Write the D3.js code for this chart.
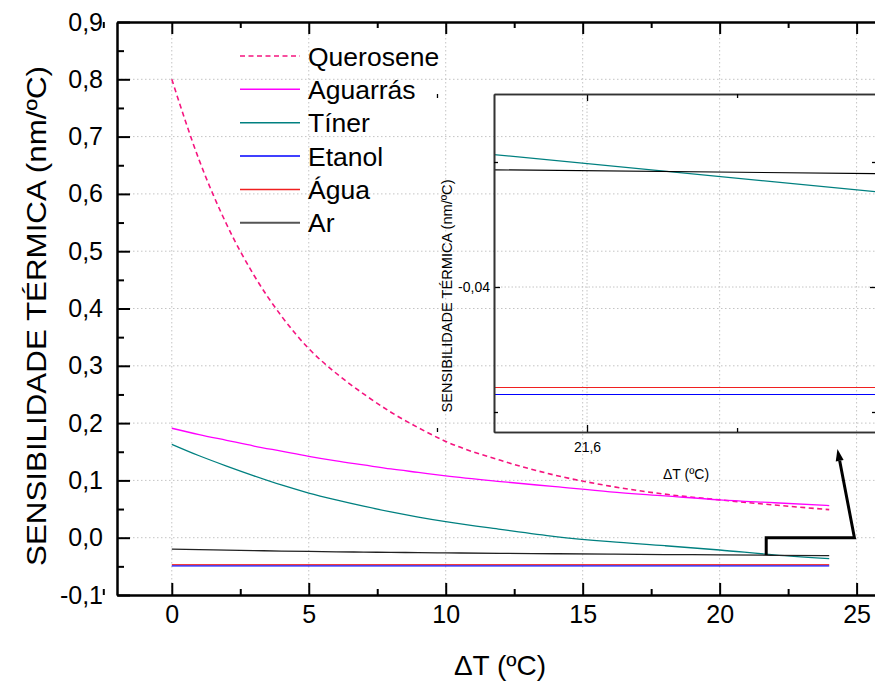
<!DOCTYPE html>
<html><head><meta charset="utf-8">
<script src="https://cdn.jsdelivr.net/npm/d3@7"></script>
<style>
body{margin:0;background:#fff}
text{font-family:"Liberation Sans",Arial,Helvetica,sans-serif;fill:#000}
</style>
</head><body>
<svg id="chart" width="875" height="684"></svg>
<script>
// ---------------- data ----------------
const deltaT    = [0,1,2,3,4,5,6,7,8,9,10,12,14,16,18,20,22,24];
const querosene = [0.800,0.659,0.547,0.458,0.387,0.330,0.287,0.251,0.219,0.192,0.168,0.135,0.109,0.090,0.076,0.066,0.057,0.049];
const aguarras  = [0.191,0.180,0.170,0.160,0.151,0.142,0.134,0.127,0.120,0.114,0.108,0.098,0.089,0.080,0.073,0.066,0.061,0.056];
const tiner     = [0.163,0.143,0.125,0.108,0.092,0.078,0.066,0.055,0.045,0.036,0.028,0.0145,0.002,-0.007,-0.014,-0.0215,-0.0300,-0.0366];
const ar        = [-0.0200,-0.0209,-0.0217,-0.0225,-0.0233,-0.0240,-0.0246,-0.0251,-0.0256,-0.0261,-0.0265,-0.0273,-0.0280,-0.0287,-0.0294,-0.0300,-0.0307,-0.0314];
const flatT     = [0,24];
const etanol    = [-0.0491,-0.0491];
const agua      = [-0.0470,-0.0470];

const seriesNames = ["Querosene","Aguarrás","Tíner","Etanol","Água","Ar"];

const xTicks      = [0,5,10,15,20,25];
const xMinorTicks = [-2.5,2.5,7.5,12.5,17.5,22.5];
const yTicks      = [-0.1,0,0.1,0.2,0.3,0.4,0.5,0.6,0.7,0.8,0.9];
const yMinorTicks = [-0.05,0.05,0.15,0.25,0.35,0.45,0.55,0.65,0.75,0.85];

// inset (zoom around ΔT ≈ 21,6)
const insetT      = [21.55,21.70];
const insetTiner  = [-0.03448,-0.03623];
const insetAr     = [-0.03529,-0.03547];
const insetAgua   = [-0.04402,-0.04402];
const insetEtanol = [-0.04430,-0.04430];
const insetXTicks = [21.6], insetXMinor = [21.55,21.65];
const insetYTicks = [-0.04], insetYMinor = [-0.045,-0.035];

// arrow annotation (data units of main plot)
const arrowPts = [[21.7,-0.03],[21.7,0.0],[24.92,0.0],[24.3,0.155]];

(function(){
// ---------------- styles ----------------
const colors = {Querosene:"#f5147f",Aguarrás:"#ff00ff",Tíner:"#008080",Etanol:"#0000ff",Água:"#f02020",Ar:"#222222"};
const fmtY = v => v.toFixed(1).replace(".", ",");

const svg = d3.select("#chart");
const M = {left:117, top:22, right:884, bottom:595};
const x = d3.scaleLinear().domain([-2,26]).range([M.left,M.right]);
const y = d3.scaleLinear().domain([-0.1,0.9]).range([M.bottom,M.top]);

// grid
const grid = svg.append("g").attr("stroke","#c4c4c4").attr("stroke-width",1).attr("stroke-dasharray","1.5,2.5");
grid.selectAll("line.v").data(xTicks).join("line").attr("class","v")
  .attr("x1",d=>x(d)).attr("x2",d=>x(d)).attr("y1",M.top).attr("y2",M.bottom);
grid.selectAll("line.h").data(yTicks.filter(d=>d>-0.1&&d<0.9)).join("line").attr("class","h")
  .attr("y1",d=>y(d)).attr("y2",d=>y(d)).attr("x1",M.left).attr("x2",M.right);

// lines
const line = d3.line().x(d=>x(d[0])).y(d=>y(d[1])).curve(d3.curveMonotoneX);
const mainSeries = [
  {name:"Querosene", t:deltaT, v:querosene, dash:"5,3.5", w:1.6},
  {name:"Aguarrás",  t:deltaT, v:aguarras,  w:1.3},
  {name:"Tíner",     t:deltaT, v:tiner,     w:1.3},
  {name:"Etanol",    t:flatT,  v:etanol,    w:1.1},
  {name:"Água",      t:flatT,  v:agua,      w:1.0},
  {name:"Ar",        t:deltaT, v:ar,        w:1.3}
];
svg.append("g").selectAll("path").data(mainSeries).join("path")
  .attr("d",s=>line(s.t.map((t,i)=>[t,s.v[i]])))
  .attr("fill","none").attr("stroke",s=>colors[s.name]).attr("stroke-width",s=>s.w)
  .attr("stroke-dasharray",s=>s.dash||null);

// axes (inward ticks, Origin style)
function styleAxis(g){
  g.select(".domain").attr("stroke","#000").attr("stroke-width",2);
  g.selectAll(".tick line").attr("stroke","#000").attr("stroke-width",2);
  g.selectAll(".tick text").attr("font-size",25).style("font-family",'"Liberation Sans",Arial,sans-serif');
}
styleAxis(svg.append("g").attr("transform",`translate(0,${M.bottom})`)
  .call(d3.axisBottom(x).tickValues(xTicks).tickSizeInner(-12).tickSizeOuter(0).tickPadding(10).tickFormat(d3.format("d"))));
styleAxis(svg.append("g").attr("transform",`translate(0,${M.bottom})`)
  .call(d3.axisBottom(x).tickValues(xMinorTicks).tickSizeInner(-6).tickSizeOuter(0).tickFormat("")));
styleAxis(svg.append("g").attr("transform",`translate(0,${M.top})`)
  .call(d3.axisTop(x).tickValues(xTicks).tickSizeInner(-12).tickSizeOuter(0).tickFormat("")));
styleAxis(svg.append("g").attr("transform",`translate(0,${M.top})`)
  .call(d3.axisTop(x).tickValues(xMinorTicks).tickSizeInner(-6).tickSizeOuter(0).tickFormat("")));
styleAxis(svg.append("g").attr("transform",`translate(${M.left},0)`)
  .call(d3.axisLeft(y).tickValues(yTicks).tickSizeInner(-13).tickSizeOuter(0).tickPadding(14).tickFormat(fmtY)));
styleAxis(svg.append("g").attr("transform",`translate(${M.left},0)`)
  .call(d3.axisLeft(y).tickValues(yMinorTicks).tickSizeInner(-7).tickSizeOuter(0).tickFormat("")));

// axis titles
svg.append("text").attr("x",500).attr("y",675).attr("text-anchor","middle").attr("font-size",28).text("ΔT (ºC)");
svg.append("text").attr("transform","translate(46,316) rotate(-90)").attr("text-anchor","middle")
  .attr("font-size",27).attr("textLength",500).attr("lengthAdjust","spacingAndGlyphs")
  .text("SENSIBILIDADE TÉRMICA (nm/ºC)");

// legend
const lg = svg.append("g");
seriesNames.forEach((n,i)=>{
  const yy = 56 + i*33.35;
  lg.append("line").attr("x1",240).attr("x2",300).attr("y1",yy).attr("y2",yy)
    .attr("stroke", n==="Ar" ? "#555" : colors[n]).attr("stroke-width", n==="Ar"?2:1.5)
    .attr("stroke-dasharray", n==="Querosene" ? "5,3.5" : null);
  lg.append("text").attr("x",308).attr("y",yy+9.5).attr("font-size",26.5).text(n);
});

// ---------------- inset ----------------
const I = {left:494, top:94, right:876, bottom:432};
const xi = d3.scaleLinear().domain([21.569,21.6963]).range([I.left,I.right]);
const yi = d3.scaleLinear().domain([-0.0458,-0.03228]).range([I.bottom,I.top]);
const inset = svg.append("g");
inset.append("clipPath").attr("id","iclip").append("rect")
  .attr("x",I.left).attr("y",I.top).attr("width",I.right-I.left).attr("height",I.bottom-I.top);
const ig = inset.append("g").attr("stroke","#c4c4c4").attr("stroke-dasharray","1.5,2");
ig.selectAll("line.v").data(insetXTicks).join("line").attr("x1",d=>xi(d)).attr("x2",d=>xi(d)).attr("y1",I.top).attr("y2",I.bottom);
ig.selectAll("line.h").data(insetYTicks).join("line").attr("y1",d=>yi(d)).attr("y2",d=>yi(d)).attr("x1",I.left).attr("x2",I.right);
const iline = d3.line().x(d=>xi(d[0])).y(d=>yi(d[1]));
const insetSeries = [
  {name:"Tíner",v:insetTiner},{name:"Ar",v:insetAr},{name:"Água",v:insetAgua},{name:"Etanol",v:insetEtanol}
];
inset.append("g").attr("clip-path","url(#iclip)").selectAll("path").data(insetSeries).join("path")
  .attr("d",s=>iline(insetT.map((t,i)=>[t,s.v[i]])))
  .attr("fill","none").attr("stroke",s=>s.name==="Ar"?"#000":colors[s.name]).attr("stroke-width",1.2);

function styleInset(g){
  g.select(".domain").attr("stroke","#333").attr("stroke-width",1.6);
  g.selectAll(".tick line").attr("stroke","#000").attr("stroke-width",1.3);
  g.selectAll(".tick text").attr("font-size",14).style("font-family",'"Liberation Sans",Arial,sans-serif');
}
styleInset(inset.append("g").attr("transform",`translate(0,${I.bottom})`)
  .call(d3.axisBottom(xi).tickValues(insetXTicks).tickSizeInner(-7).tickSizeOuter(0).tickPadding(10).tickFormat(d=>d.toFixed(1).replace(".",","))));
styleInset(inset.append("g").attr("transform",`translate(0,${I.bottom})`)
  .call(d3.axisBottom(xi).tickValues(insetXMinor).tickSizeInner(-4).tickSizeOuter(0).tickFormat("")));
styleInset(inset.append("g").attr("transform",`translate(0,${I.top})`)
  .call(d3.axisTop(xi).tickValues(insetXTicks).tickSizeInner(-7).tickSizeOuter(0).tickFormat("")));
styleInset(inset.append("g").attr("transform",`translate(0,${I.top})`)
  .call(d3.axisTop(xi).tickValues(insetXMinor).tickSizeInner(-4).tickSizeOuter(0).tickFormat("")));
styleInset(inset.append("g").attr("transform",`translate(${I.left},0)`)
  .call(d3.axisLeft(yi).tickValues(insetYTicks).tickSizeInner(-6).tickSizeOuter(0).tickPadding(4).tickFormat(d=>d.toFixed(2).replace(".",","))));
styleInset(inset.append("g").attr("transform",`translate(${I.left},0)`)
  .call(d3.axisLeft(yi).tickValues(insetYMinor).tickSizeInner(-4).tickSizeOuter(0).tickFormat("")));
styleInset(inset.append("g").attr("transform",`translate(${I.right},0)`)
  .call(d3.axisRight(yi).tickValues(insetYTicks).tickSizeInner(-6).tickSizeOuter(0).tickFormat("")));
styleInset(inset.append("g").attr("transform",`translate(${I.right},0)`)
  .call(d3.axisRight(yi).tickValues(insetYMinor).tickSizeInner(-4).tickSizeOuter(0).tickFormat("")));
inset.append("text").attr("x",686).attr("y",479).attr("text-anchor","middle").attr("font-size",14).text("ΔT (ºC)");
inset.append("text").attr("transform","translate(452,296) rotate(-90)").attr("text-anchor","middle")
  .attr("font-size",15).attr("textLength",233).attr("lengthAdjust","spacingAndGlyphs")
  .text("SENSIBILIDADE TÉRMICA (nm/ºC)");

// ---------------- arrow ----------------
const ap = arrowPts.map(p=>[x(p[0]),y(p[1])]);
const n = ap.length, tip = ap[n-1], prev = ap[n-2];
const dx = tip[0]-prev[0], dy = tip[1]-prev[1], L = Math.hypot(dx,dy), ux = dx/L, uy = dy/L;
const headL = 12, headW = 4;
const base = [tip[0]-ux*headL, tip[1]-uy*headL];
const shaft = ap.slice(0,n-1).concat([base]);
svg.append("path").attr("d",d3.line()(shaft)).attr("fill","none").attr("stroke","#000")
  .attr("stroke-width",3).attr("stroke-linejoin","miter");
svg.append("path").attr("d",d3.line()([tip,[base[0]-uy*headW,base[1]+ux*headW],[base[0]+uy*headW,base[1]-ux*headW]])+"Z")
  .attr("fill","#000");
})();
</script>
</body></html>
